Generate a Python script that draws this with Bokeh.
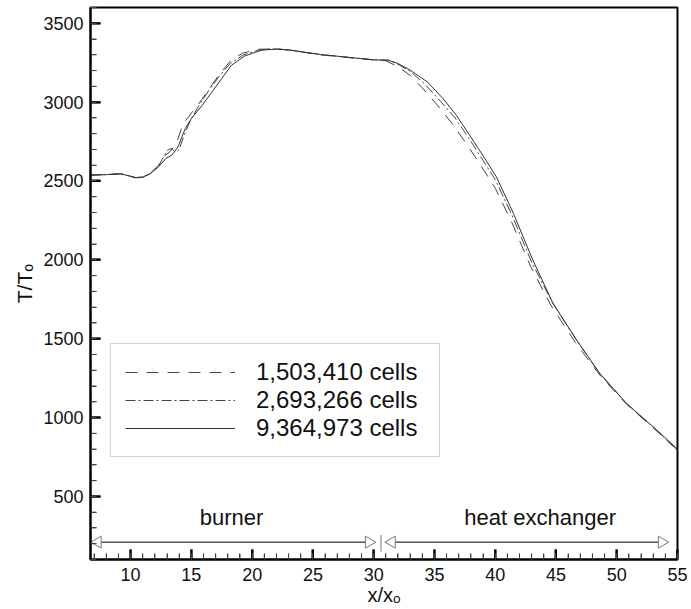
import math
from bokeh.plotting import figure
from bokeh.models import (Range1d, SingleIntervalTicker, Legend, LegendItem, Label)
from bokeh.embed import file_html
from bokeh.resources import INLINE

# ---------------- data ----------------
labels = ["1,503,410 cells", "2,693,266 cells", "9,364,973 cells"]

x_coarse = [6.7, 8.0, 9.2, 10.4, 11.0, 11.6, 12.3, 12.8, 13.3, 13.8, 14.3, 15.0,
            15.8, 16.6, 17.4, 18.2, 19.2, 20.5, 22.0, 23.1, 25.6, 28.3, 30.0, 31.0,
            32.0, 33.0, 34.0, 35.2, 36.4, 37.6, 38.8, 40.0, 41.3, 42.9, 44.6, 46.6,
            48.6, 50.8, 53.0, 55.0]
t_coarse = [2537, 2542, 2545, 2520, 2523, 2548, 2600, 2660, 2690, 2745, 2860, 2930,
            3010, 3100, 3185, 3260, 3310, 3335, 3338, 3330, 3300, 3280, 3268, 3262,
            3225, 3170, 3090, 2985, 2870, 2740, 2600, 2455, 2250, 1960, 1710, 1475,
            1270, 1085, 935, 795]

x_medium = [6.7, 8.0, 9.2, 10.4, 11.0, 11.6, 12.3, 12.8, 13.1, 13.4, 13.7, 14.0,
            14.4, 14.9, 15.6, 16.4, 17.3, 18.2, 19.3, 20.6, 22.0, 23.1, 25.6, 28.3,
            30.0, 31.2, 32.0, 33.0, 34.2, 35.5, 36.7, 37.8, 39.0, 40.0, 41.4, 43.0,
            44.7, 46.7, 48.6, 50.8, 53.0, 55.0]
t_medium = [2537, 2541, 2546, 2522, 2524, 2546, 2595, 2665, 2700, 2705, 2680, 2700,
            2790, 2880, 2975, 3070, 3165, 3245, 3300, 3332, 3337, 3330, 3302, 3281,
            3268, 3266, 3240, 3195, 3115, 3005, 2900, 2775, 2630, 2510, 2280, 1985,
            1730, 1490, 1280, 1090, 940, 790]

x_fine = [6.7, 8.0, 9.2, 10.4, 11.0, 11.6, 12.3, 12.9, 13.4, 13.9, 14.5, 15.0,
          15.9, 16.7, 17.5, 18.3, 19.4, 20.8, 22.0, 23.1, 25.6, 28.3, 30.0, 31.2,
          32.0, 33.0, 34.4, 35.7, 36.8, 37.9, 39.0, 40.1, 41.5, 43.1, 44.75, 46.7,
          48.6, 50.8, 53.0, 55.0]
t_fine = [2537, 2540, 2545, 2522, 2525, 2545, 2590, 2643, 2664, 2716, 2833, 2896,
          2981, 3065, 3150, 3234, 3293, 3330, 3336, 3330, 3302, 3281, 3268, 3266,
          3245, 3203, 3129, 3023, 2917, 2790, 2660, 2526, 2294, 1998, 1725, 1491,
          1280, 1089, 941, 800]

regions = ["burner", "heat exchanger"]
region_start = [6.8, 31.0]
region_end = [30.1, 54.2]
region_label_x = [18.3, 43.7]
region_arrow_y = 210
region_label_y = 368
region_divider_x = 30.6

# axis ranges and tick positions
X_MIN, X_MAX = 6.7, 55.0
Y_MIN, Y_MAX = 100, 3600
x_major = list(range(10, 56, 5))
x_minor = [v for v in range(7, 55) if v % 5 != 0]
y_major = list(range(500, 3501, 500))
y_minor = [v for v in range(200, 3600, 100) if v % 500 != 0]

FONT = "Liberation Sans"
W, H = 691, 609
BL, BR, BT, BB = 90, 14, 7, 50
frame_w = W - BL - BR
frame_h = H - BT - BB
px_x = frame_w / (X_MAX - X_MIN)   # pixels per x unit
px_y = frame_h / (Y_MAX - Y_MIN)   # pixels per y unit

p = figure(width=W, height=H, output_backend="svg", toolbar_location=None,
           x_range=Range1d(X_MIN, X_MAX), y_range=Range1d(Y_MIN, Y_MAX),
           min_border_left=BL, min_border_right=BR, min_border_top=BT,
           min_border_bottom=BB)
p.grid.visible = False
p.outline_line_color = "black"
p.outline_line_width = 2

for ax in (p.xaxis[0], p.yaxis[0]):
    ax.major_tick_in = 10
    ax.major_tick_out = 0
    ax.minor_tick_in = 6
    ax.minor_tick_out = 0
    ax.major_tick_line_width = 2
    ax.major_tick_line_color = "black"
    ax.minor_tick_line_color = "#444"
    ax.axis_line_width = 2
    ax.axis_line_color = "black"
    ax.major_label_text_font = FONT
    ax.major_label_text_font_size = "18px"
    ax.major_label_text_color = "#111"
    ax.axis_label_text_font = FONT
    ax.axis_label_text_font_style = "normal"
    ax.axis_label_text_color = "#111"

p.xaxis[0].ticker = SingleIntervalTicker(interval=5, num_minor_ticks=5)
p.yaxis[0].ticker = SingleIntervalTicker(interval=500, num_minor_ticks=5)
p.xaxis[0].axis_label = "x/xₒ"
p.yaxis[0].axis_label = "T/Tₒ"
p.xaxis[0].axis_label_text_font_size = "20px"
p.yaxis[0].axis_label_text_font_size = "21px"
p.xaxis[0].major_label_standoff = 8
p.yaxis[0].major_label_standoff = 7
p.xaxis[0].axis_label_standoff = 0
p.yaxis[0].axis_label_standoff = 4

# inward ticks drawn again as markers (centred half a tick inside the frame)
maj_len, min_len = 10, 6
p.scatter(x=x_major, y=[Y_MIN + (maj_len / 2) / px_y] * len(x_major), marker="dash",
          angle=math.pi / 2, size=maj_len, line_color="black", line_width=2)
p.scatter(x=x_minor, y=[Y_MIN + (min_len / 2) / px_y] * len(x_minor), marker="dash",
          angle=math.pi / 2, size=min_len, line_color="#444", line_width=1)
p.scatter(x=[X_MIN + (maj_len / 2) / px_x] * len(y_major), y=y_major, marker="dash",
          size=maj_len, line_color="black", line_width=2)
p.scatter(x=[X_MIN + (min_len / 2) / px_x] * len(y_minor), y=y_minor, marker="dash",
          size=min_len, line_color="#444", line_width=1)

r1 = p.line(x_coarse, t_coarse, line_color="#444", line_width=1, line_dash="12 9")
r2 = p.line(x_medium, t_medium, line_color="#444", line_width=1, line_dash="10 3 2 3")
r3 = p.line(x_fine, t_fine, line_color="#333", line_width=1)

legend = Legend(items=[LegendItem(label=labels[0], renderers=[r1]),
                       LegendItem(label=labels[1], renderers=[r2]),
                       LegendItem(label=labels[2], renderers=[r3])],
                location=(20, 102), glyph_width=110, glyph_height=28,
                label_height=28, label_width=169, spacing=0, padding=14,
                label_standoff=21, label_text_font=FONT,
                label_text_font_size="24px", label_text_color="#111",
                border_line_color="#aaa", border_line_width=1,
                background_fill_color="white", background_fill_alpha=1)
p.add_layout(legend)

# region arrows: shaft + open triangular heads
y_arr = [region_arrow_y] * len(regions)
p.segment(x0=region_start, y0=y_arr, x1=region_end, y1=y_arr,
          line_color="black", line_width=1)
head = 12
off = (head / 2) / px_x
p.scatter(x=[s + off for s in region_start], y=y_arr, marker="triangle",
          angle=math.pi / 2, size=head, fill_color="white", line_color="#777",
          line_width=1)
p.scatter(x=[e - off for e in region_end], y=y_arr, marker="triangle",
          angle=-math.pi / 2, size=head, fill_color="white", line_color="#777",
          line_width=1)

p.segment(x0=[region_divider_x], y0=[150], x1=[region_divider_x], y1=[255],
          line_color="#777", line_width=1)

for name, lx in zip(regions, region_label_x):
    p.add_layout(Label(x=lx, y=region_label_y, text=name, text_font=FONT,
                       text_font_size="22px", text_align="center",
                       text_baseline="middle", text_color="#111"))

open("out.html", "w").write(file_html(p, INLINE))
